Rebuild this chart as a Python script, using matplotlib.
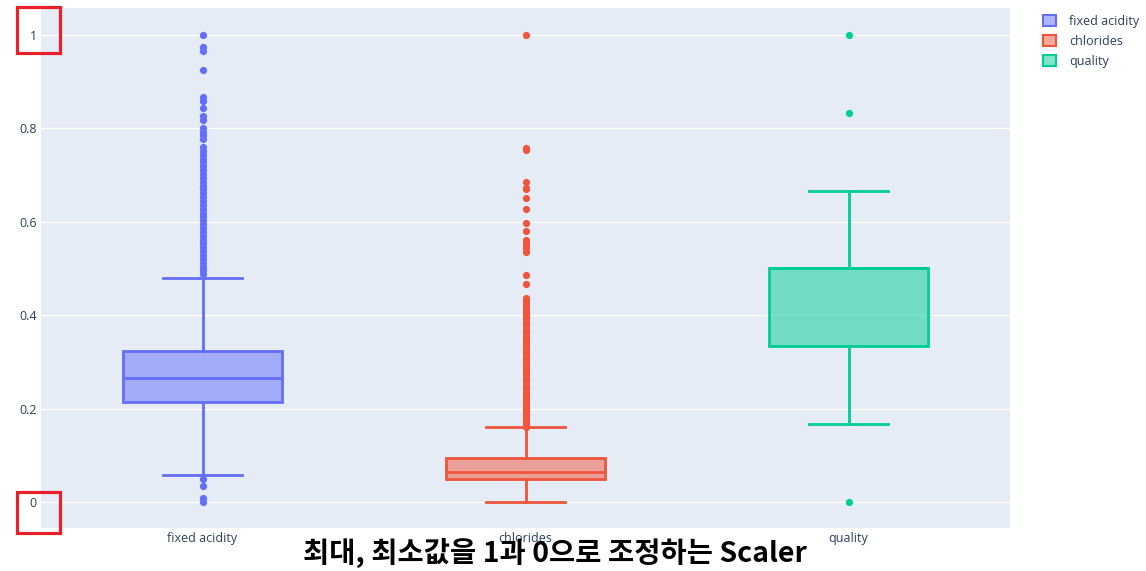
import matplotlib
matplotlib.use("Agg")
import matplotlib.pyplot as plt
from matplotlib.patches import Patch, Rectangle

# ---------------- data (normalized 0..1) ----------------
categories = ["fixed acidity", "chlorides", "quality"]
colors = ["#636efa", "#EF553B", "#00cc96"]

q1_vals = [0.2149, 0.0482, 0.3333]
med_vals = [0.2645, 0.0631, 0.5000]
q3_vals = [0.3223, 0.0930, 0.5000]
whislo_vals = [0.0579, 0.0000, 0.1667]
whishi_vals = [0.4793, 0.1595, 0.6667]

fixed_acidity_outliers = [
    0.0, 0.0083, 0.0331, 0.0496,
    0.4876, 0.4959, 0.5041, 0.5124, 0.5207, 0.5289, 0.5372, 0.5455,
    0.5537, 0.5620, 0.5702, 0.5785, 0.5868, 0.5950, 0.6033, 0.6116,
    0.6198, 0.6281, 0.6364, 0.6446, 0.6529, 0.6612, 0.6694, 0.6777,
    0.6860, 0.6942, 0.7025, 0.7107, 0.7190, 0.7273, 0.7355, 0.7438,
    0.7521, 0.7603, 0.7769, 0.7851, 0.7934, 0.8017, 0.8182, 0.8264,
    0.8430, 0.8595, 0.8678, 0.9256, 0.9669, 0.9752, 1.0,
]
chlorides_outliers = [
    0.161, 0.166, 0.171, 0.176, 0.181, 0.186, 0.191, 0.196, 0.201, 0.206,
    0.211, 0.216, 0.221, 0.226, 0.231, 0.236, 0.241, 0.246, 0.251, 0.256,
    0.261, 0.266, 0.271, 0.276, 0.281, 0.286, 0.291, 0.296, 0.301, 0.306,
    0.311, 0.316, 0.321, 0.326, 0.331, 0.336, 0.341, 0.346, 0.351, 0.356,
    0.361, 0.366, 0.371, 0.376, 0.381, 0.386, 0.391, 0.396, 0.401, 0.406,
    0.411, 0.418, 0.424, 0.430, 0.437, 0.466, 0.485,
    0.535, 0.543, 0.550, 0.556, 0.561, 0.581, 0.597, 0.627, 0.652,
    0.671, 0.673, 0.686, 0.754, 0.759, 1.0,
]
quality_outliers = [0.0, 0.8333, 1.0]
outliers = [fixed_acidity_outliers, chlorides_outliers, quality_outliers]

y_ticks = [0, 0.2, 0.4, 0.6, 0.8, 1]
y_tick_labels = ["0", "0.2", "0.4", "0.6", "0.8", "1"]
caption = "최대, 최소값을 1과 0으로 조정하는 Scaler"

# ---------------- figure ----------------
W, H = 1146, 571
fig = plt.figure(figsize=(W / 100, H / 100), dpi=100)
fig.patch.set_facecolor("white")
ax = fig.add_axes([41 / W, 1 - 528 / H, (1010 - 41) / W, (528 - 8) / H])
ax.set_facecolor("#E5ECF6")
for s in ax.spines.values():
    s.set_visible(False)

text_color = "#2a3f5f"
tick_font = ["Open Sans", "DejaVu Sans"]

stats = []
for i, name in enumerate(categories):
    stats.append(dict(label=name, q1=q1_vals[i], med=med_vals[i], q3=q3_vals[i],
                      whislo=whislo_vals[i], whishi=whishi_vals[i],
                      fliers=outliers[i]))

for i, st in enumerate(stats):
    c = colors[i]
    ax.bxp([st], positions=[i], widths=0.49, capwidths=0.245, patch_artist=True,
           showfliers=True, manage_ticks=False,
           boxprops=dict(facecolor=matplotlib.colors.to_rgba(c, 0.5), edgecolor=c, linewidth=2),
           medianprops=dict(color=c, linewidth=2),
           whiskerprops=dict(color=c, linewidth=2),
           capprops=dict(color=c, linewidth=2),
           flierprops=dict(marker="o", markerfacecolor=c, markeredgecolor=c,
                           markeredgewidth=0, markersize=5.2, linestyle="none"),
           zorder=3)

ax.set_xlim(-0.5, 2.5)
ax.set_ylim(-0.056, 1.058)
ax.set_xticks(range(len(categories)))
ax.set_xticklabels(categories, family=tick_font, fontsize=9, color=text_color)
ax.set_yticks(y_ticks)
ax.set_yticklabels(y_tick_labels, family=tick_font, fontsize=9, color=text_color)
ax.tick_params(axis="both", length=0)
ax.tick_params(axis="x", pad=3)
ax.tick_params(axis="y", pad=3)
ax.grid(axis="y", color="white", linewidth=1)
ax.grid(axis="x", visible=False)
ax.set_axisbelow(True)

# legend
handles = [Patch(facecolor=matplotlib.colors.to_rgba(c, 0.5), edgecolor=c, linewidth=1.5, label=n)
           for n, c in zip(categories, colors)]
fig.legend(handles=handles, loc="upper left", bbox_to_anchor=(1038 / W, 1 - 10 / H),
           frameon=False, prop=dict(family=tick_font, size=9), labelcolor=text_color,
           handlelength=1.0, handleheight=1.0, handletextpad=1.1, labelspacing=0.55,
           borderaxespad=0)

# red highlight boxes around 1 and 0 labels
for (x0, y0, x1, y1) in [(17, 7, 60, 53), (17, 492, 60, 533)]:
    fig.patches.append(Rectangle((x0 / W, 1 - y1 / H), (x1 - x0) / W, (y1 - y0) / H,
                                 transform=fig.transFigure, fill=False,
                                 edgecolor="#e8202a", linewidth=2.3, zorder=10))

# caption
fig.text(555 / W, 1 - 553 / H, caption, ha="center", va="center",
         family=["Noto Sans CJK KR", "DejaVu Sans"], fontweight="bold",
         fontsize=20.5, color="black", zorder=11)

fig.savefig("out.png", dpi=100, facecolor="white")
